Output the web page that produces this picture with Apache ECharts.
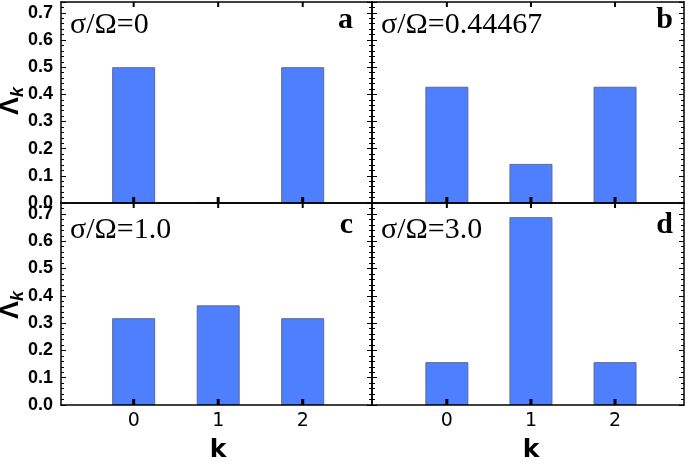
<!DOCTYPE html>
<html>
<head>
<meta charset="utf-8">
<script src="https://cdn.jsdelivr.net/npm/echarts@6/dist/echarts.min.js"></script>
<style>
html,body{margin:0;padding:0;background:#fff;}
#chart{width:685px;height:463px;}
</style>
</head>
<body>
<div id="chart"></div>
<script>
// ---- data ----
const kCategories = [0, 1, 2];
const kTickLabels = ['0', '1', '2'];
const lambdaA = [0.5, 0.0, 0.5];
const lambdaB = [0.428, 0.144, 0.428];
const lambdaC = [0.318, 0.365, 0.318];
const lambdaD = [0.157, 0.688, 0.157];
const yTicks = [0.0, 0.1, 0.2, 0.3, 0.4, 0.5, 0.6, 0.7];
const panelNotes = ['σ/Ω=0', 'σ/Ω=0.44467', 'σ/Ω=1.0', 'σ/Ω=3.0'];
const panelLetters = ['a', 'b', 'c', 'd'];
const panelValues = [lambdaA, lambdaB, lambdaC, lambdaD];

// ---- layout ----
const panels = [
  {left: 61, top: 2, width: 311, height: 201, xmin: -0.86, showY: true},
  {left: 372, top: 2, width: 312, height: 201, xmin: -0.89, showY: false},
  {left: 61, top: 203, width: 311, height: 202, xmin: -0.86, showY: true},
  {left: 372, top: 203, width: 312, height: 202, xmin: -0.89, showY: false}
];
const XMAX = 2.82, YMAX = 0.74;
const lineStyle = {color: '#000', width: 1.5};

// inward tick mark (small filled rect) at a k position: bottom edge (dir=-1) or top edge (dir=+1)
function makeTick(dir, w, h) {
  return function (params, api) {
    const pt = api.coord([api.value(0), api.value(1)]);
    return {
      type: 'rect',
      shape: {x: pt[0] - w / 2, y: dir < 0 ? pt[1] - h : pt[1], width: w, height: h},
      style: {fill: '#000'}
    };
  };
}

const grid = [], xAxis = [], yAxis = [], series = [], graphic = [];
panels.forEach((p, i) => {
  grid.push({left: p.left, top: p.top, width: p.width, height: p.height, show: false, outerBoundsMode: 'none', containLabel: false});
  const isBottomRow = i >= 2;
  xAxis.push({
    type: 'value', gridIndex: i, position: 'bottom', min: p.xmin, max: XMAX, z: 5,
    axisLine: {show: true, onZero: false, lineStyle},
    axisTick: {show: false},
    axisLabel: {show: isBottomRow, customValues: kCategories, margin: 7,
      formatter: v => kTickLabels[kCategories.indexOf(Math.round(v))] ?? '',
      fontFamily: 'DejaVu Sans', fontSize: 19, color: '#000'},
    splitLine: {show: false}
  });
  xAxis.push({
    type: 'value', gridIndex: i, position: 'top', min: p.xmin, max: XMAX, z: 5,
    axisLine: {show: true, onZero: false, lineStyle},
    axisTick: {show: false},
    axisLabel: {show: false},
    splitLine: {show: false}
  });
  yAxis.push({
    type: 'value', gridIndex: i, position: 'left', min: 0, max: YMAX, interval: 0.1, z: 5,
    axisLine: {show: true, onZero: false, lineStyle},
    axisTick: {show: true, inside: true, length: 5, lineStyle: {color: '#000', width: 1}},
    minorTick: {show: true, splitNumber: 5, length: 3, lineStyle: {color: '#000', width: 1}},
    axisLabel: {show: p.showY, customValues: yTicks, margin: 8,
      formatter: v => v.toFixed(1),
      fontFamily: 'Liberation Sans', fontWeight: 'bold', fontSize: 18, color: '#000'},
    splitLine: {show: false}, minorSplitLine: {show: false}
  });
  yAxis.push({
    type: 'value', gridIndex: i, position: 'right', min: 0, max: YMAX, interval: 0.1, z: 5,
    axisLine: {show: true, onZero: false, lineStyle},
    axisTick: {show: true, inside: true, length: 5, lineStyle: {color: '#000', width: 1}},
    minorTick: {show: true, splitNumber: 5, length: 3, lineStyle: {color: '#000', width: 1}},
    axisLabel: {show: false},
    splitLine: {show: false}, minorSplitLine: {show: false}
  });
  series.push({
    type: 'bar', xAxisIndex: i * 2, yAxisIndex: i * 2, barWidth: 43, z: 2,
    itemStyle: {color: '#4d7fff', borderColor: '#5a6a92', borderWidth: 1},
    data: kCategories.map((k, j) => [k, panelValues[i][j]])
  });
  series.push({
    type: 'custom', xAxisIndex: i * 2, yAxisIndex: i * 2, z: 8, silent: true, clip: false,
    renderItem: makeTick(-1, 3, 6),
    data: kCategories.map(k => [k, 0])
  });
  series.push({
    type: 'custom', xAxisIndex: i * 2, yAxisIndex: i * 2, z: 8, silent: true, clip: false,
    renderItem: makeTick(1, 2, 5),
    data: kCategories.map(k => [k, YMAX])
  });
  const noteY = isBottomRow ? 230 : 25;
  const letterY = isBottomRow ? 225 : 20;
  graphic.push({
    type: 'text', x: p.left + 9, y: noteY, z: 10,
    style: {text: panelNotes[i], fontFamily: 'Liberation Serif', fontSize: 30, fill: '#000',
      align: 'left', verticalAlign: 'middle'}
  });
  graphic.push({
    type: 'text', x: (i % 2 === 0) ? 353 : 673, y: letterY, z: 10,
    style: {text: panelLetters[i], fontFamily: 'Liberation Serif', fontWeight: 'bold', fontSize: 30, fill: '#000',
      align: 'right', verticalAlign: 'middle'}
  });
});

[101, 305].forEach(cy => {
  graphic.push({
    type: 'text', x: 11, y: cy, rotation: Math.PI / 2, z: 10,
    style: {text: '{L|Λ}{k|k}', align: 'center', verticalAlign: 'middle',
      rich: {
        L: {fontFamily: 'Liberation Sans', fontWeight: 'bold', fontSize: 27, fill: '#000', verticalAlign: 'bottom'},
        k: {fontFamily: 'Liberation Sans', fontWeight: 'bold', fontStyle: 'italic', fontSize: 18, fill: '#000', verticalAlign: 'bottom', padding: [0, 0, -3, 0]}
      }}
  });
});
[218, 531].forEach(cx => {
  graphic.push({
    type: 'text', x: cx, y: 450, z: 10,
    style: {text: 'k', fontFamily: 'DejaVu Sans', fontWeight: 'bold', fontSize: 25, fill: '#000',
      align: 'center', verticalAlign: 'middle'}
  });
});

const chart = echarts.init(document.getElementById('chart'), null, {renderer: 'canvas'});
chart.setOption({
  animation: false,
  backgroundColor: '#fff',
  grid, xAxis, yAxis, series, graphic
});
</script>
</body>
</html>
